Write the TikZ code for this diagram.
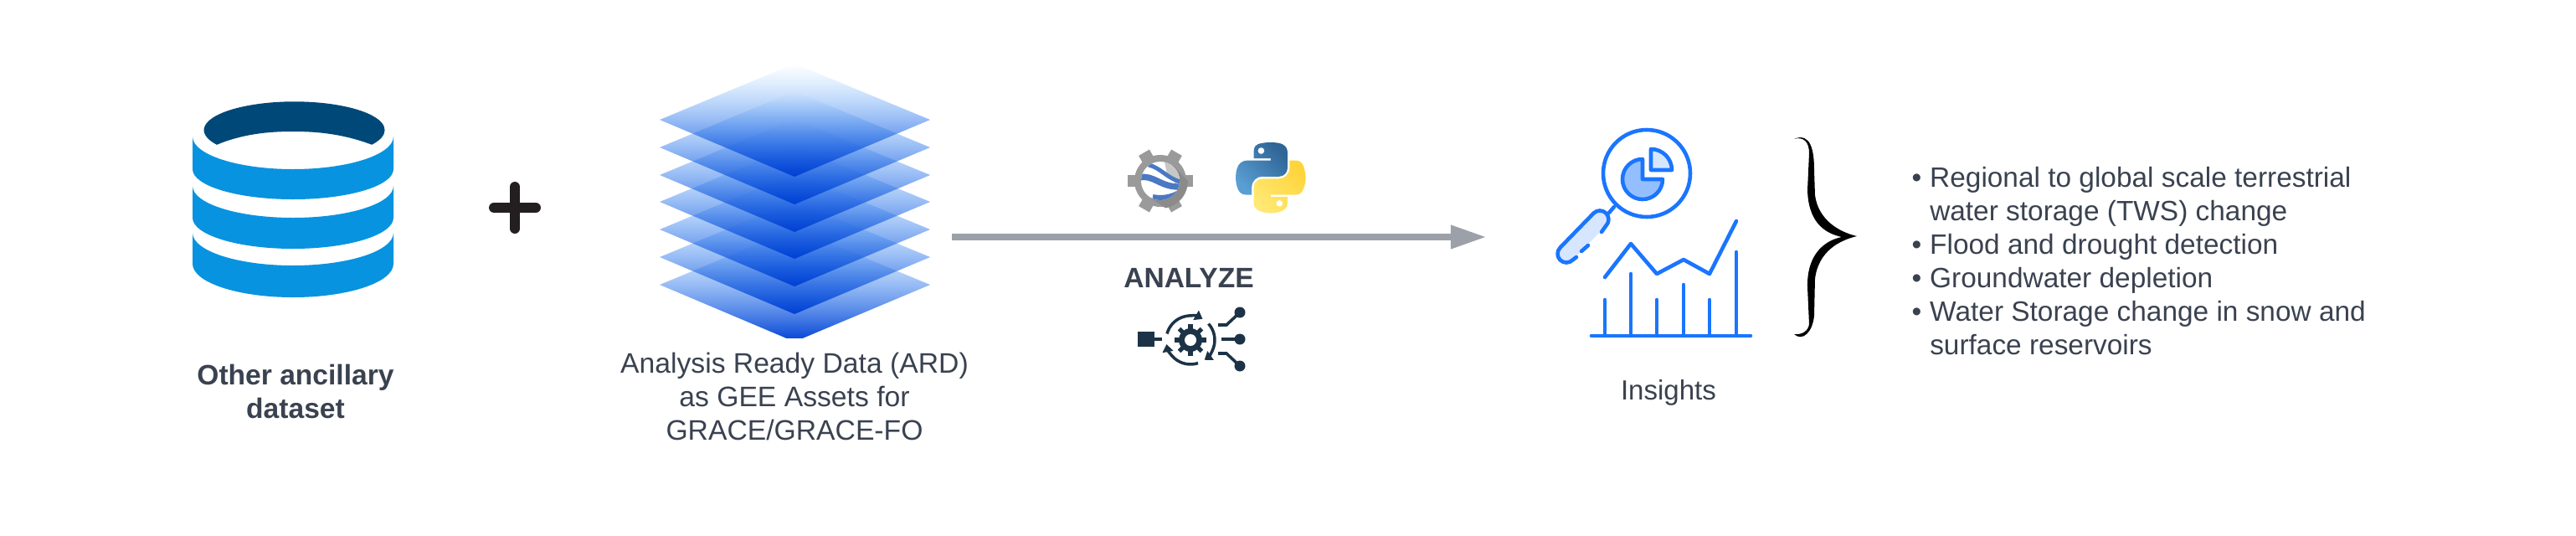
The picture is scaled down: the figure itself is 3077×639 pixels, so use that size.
\documentclass[tikz,border=0pt]{standalone}
\usepackage{fontspec}
\setmainfont{Liberation Sans}
\usetikzlibrary{arrows.meta}
\usetikzlibrary{fadings}
\definecolor{textdark}{HTML}{3A4250}
\definecolor{bandblue}{HTML}{0893E0}
\definecolor{rimblue}{HTML}{004878}
\definecolor{layerblue}{HTML}{0040D4}
\definecolor{layerpale}{HTML}{58ACFF}
\definecolor{arrowgray}{HTML}{9BA0A9}
\definecolor{plusblack}{HTML}{231F20}
\definecolor{iconnavy}{HTML}{1C3347}
\definecolor{gearsilver}{HTML}{9A9A9A}
\definecolor{earthblue}{HTML}{4A78C4}
\definecolor{snakeblue}{HTML}{5A9FD4}
\definecolor{snakenavy}{HTML}{2F6597}
\definecolor{snakepale}{HTML}{FFE873}
\definecolor{snakegold}{HTML}{FFD43B}
\definecolor{chartblue}{HTML}{1A75FF}
\definecolor{pieblue}{HTML}{94BFFF}
\definecolor{palechart}{HTML}{D6E6FF}
\tikzfading[name=layerfade, top color=transparent!100, middle color=transparent!8, bottom color=transparent!0]
\tikzset{
  labeltext/.style={inner sep=0pt, text=textdark, align=center, font=\fontsize{9.58}{11.38}\selectfont},
  boldlabel/.style={labeltext, font=\fontsize{9.55}{11.38}\selectfont\bfseries},
  chartline/.style={draw=chartblue, line width=1.3pt, line cap=round, line join=round},
  navyline/.style={draw=iconnavy, line width=1pt},
  ringarrow/.style={navyline, -{Triangle[length=2.6pt,width=3.6pt]}}
}
\begin{document}
\begin{tikzpicture}[x=0.01cm,y=-0.01cm]
  \useasboundingbox (0,0) rectangle (3077,639);
  %% Cylinder
  \fill[rimblue] (259,172.8) arc[start angle=149,end angle=391,x radius=108,y radius=34]
    .. controls (410,160) and (380,157) .. (350,157)
    .. controls (320,157) and (290,160) .. (259,172.8) -- cycle;
  \foreach \sa/\da/\sb/\db in {163/39/202/36, 222/38/260/37, 278/39/315/40}
    \fill[bandblue] (230,\sa) arc[start angle=180,end angle=0,x radius=120,y radius=\da]
      -- (470,\sb) arc[start angle=0,end angle=180,x radius=120,y radius=\db] -- cycle;
  \node[boldlabel] (ancillarylabel) at (353,467) {Other ancillary\\dataset};
  %% Plus
  \draw[plusblack, line width=3.4pt, line cap=round] (590,248) -- (640,248);
  \draw[plusblack, line width=3.4pt, line cap=round] (615,223) -- (615,273);
  %% Layers
  \begin{scope}
    \clip (700,60) rectangle (1200,403);
    \foreach \ym in {340,307,274,241,209,176,143}
      \shade[top color=layerpale, bottom color=layerblue, path fading=layerfade]
        (949,\ym-67) -- (1111,\ym) -- (949,\ym+68) -- (788,\ym) -- cycle;
  \end{scope}
  \node[labeltext] (ardlabel) at (949,473) {Analysis Ready Data (ARD)\\as GEE Assets for\\GRACE/GRACE-FO};
  %% Arrow
  \coordinate (arrowtail) at (1137,283);
  \coordinate (arrowtip) at (1775,283);
  \draw[arrowgray, line width=2pt, -{Triangle[length=12pt,width=7.7pt]}] (arrowtail) -- (arrowtip);
  \node[boldlabel, anchor=base] (analyzelabel) at (1420,343) {ANALYZE};
  %% Engine gear
  \begin{scope}[shift={(1386,216)}]
    \fill[gearsilver] (0,0) circle (31);
    \foreach \ang in {0,60,...,300}
      \draw[gearsilver, line width=4.2pt] (\ang:20) -- (\ang:39);
    \begin{scope}
      \clip (0,0) circle (33);
      \fill[gearsilver!90!black] (16,-18) -- (42,10) -- (14,38) -- (-12,20) -- cycle;
    \end{scope}
    \fill[white] (0,0) circle (23);
    \begin{scope}
      \clip (0,0) circle (23);
      \fill[black!22] (5,-23) arc[start angle=-78,end angle=20,radius=23] -- (8,-8) -- cycle;
      \draw[earthblue, line width=1.4pt] (-14,-19) .. controls (0,-16) and (8,-3) .. (24,1);
      \draw[earthblue, line width=2.1pt] (-25,-4) .. controls (-8,-8) and (0,8) .. (24,7);
      \draw[earthblue, line width=1.7pt] (-9,19) .. controls (0,21) and (12,20) .. (22,14);
    \end{scope}
  \end{scope}
  %% Snake logo
  \begin{scope}[shift={(1476,170)},x=0.00752cm,y=-0.00752cm]
    \shade[left color=snakeblue, right color=snakenavy, shading angle=135]
      (54.919,0.001) .. controls (50.335,0.022) and (45.958,0.413) .. (42.106,1.095)
      .. controls (30.76,3.099) and (28.7,7.295) .. (28.7,15.032) -- (28.7,25.251) -- (55.513,25.251)
      -- (55.513,28.657) -- (18.638,28.657) .. controls (10.845,28.657) and (4.022,33.341) .. (1.887,42.251)
      .. controls (-0.575,52.464) and (-0.684,58.837) .. (1.887,69.501)
      .. controls (3.793,77.44) and (8.346,83.095) .. (16.138,83.095) -- (25.357,83.095) -- (25.357,70.845)
      .. controls (25.357,61.995) and (33.014,54.189) .. (42.106,54.189) -- (68.888,54.189)
      .. controls (76.343,54.189) and (82.294,48.05) .. (82.294,40.564) -- (82.294,15.032)
      .. controls (82.294,7.766) and (76.164,2.307) .. (68.888,1.095)
      .. controls (64.282,0.328) and (59.503,-0.02) .. (54.919,0.001) -- cycle;
    \shade[left color=snakepale, right color=snakegold, shading angle=135]
      (85.638,28.657) -- (85.638,40.564) .. controls (85.638,49.796) and (77.811,57.564) .. (68.888,57.564)
      -- (42.106,57.564) .. controls (34.771,57.564) and (28.7,63.843) .. (28.7,71.189) -- (28.7,96.72)
      .. controls (28.7,103.987) and (35.019,108.261) .. (42.106,110.345)
      .. controls (50.593,112.84) and (58.732,113.291) .. (68.888,110.345)
      .. controls (75.638,108.391) and (82.294,104.458) .. (82.294,96.72) -- (82.294,86.501) -- (55.513,86.501)
      -- (55.513,83.095) -- (95.701,83.095) .. controls (103.494,83.095) and (106.397,77.659) .. (109.107,69.501)
      .. controls (111.906,61.102) and (111.787,53.025) .. (109.107,42.251)
      .. controls (107.181,34.494) and (103.503,28.657) .. (95.701,28.657) -- cycle;
    \fill[white] (40.42,13.33) circle (5.06);
    \fill[white] (69.51,96.75) circle (5.06);
  \end{scope}
  %% Analyze icon
  \fill[iconnavy] (1359,396) rectangle (1379,414);
  \draw[navyline, line width=1.4pt] (1379,405) -- (1388,405);
  \begin{scope}[shift={(1422,406)}]
    \fill[iconnavy] (0,0) circle (14);
    \foreach \ang in {0,45,...,315}
      \draw[iconnavy, line width=1.5pt] (\ang:10) -- (\ang:19);
    \fill[white] (0,0) circle (7);
    \draw[ringarrow] (195:29) arc[start angle=195,end angle=300,radius=29];
    \draw[ringarrow] (-42:29) arc[start angle=-42,end angle=55,radius=29];
    \draw[ringarrow] (72:29) arc[start angle=72,end angle=170,radius=29];
  \end{scope}
  \draw[navyline] (1455,388) -- (1465,388) -- (1481,373);
  \draw[navyline] (1459,405) -- (1481,405);
  \draw[navyline] (1455,422) -- (1465,422) -- (1481,437);
  \foreach \yd in {373,405,437}
    \fill[iconnavy] (1481,\yd) circle (6.5);
  %% Insights icon
  \draw[chartline] (1967,207) circle (52);
  \draw[chartline, fill=pieblue] (1962,190) -- (1962,214) -- (1986,214) arc[start angle=0,end angle=270,radius=24] -- cycle;
  \draw[chartline, fill=palechart] (1972,178) -- (1972,203) -- (1997,203) arc[start angle=0,end angle=-90,radius=25] -- cycle;
  \draw[chartline] (1928,247) -- (1922,254);
  \draw[palechart, line width=6pt, line cap=round] (1911,262) -- (1871,303);
  \draw[chartline] (1913,277) -- (1918.4,269.4) arc[start angle=45,end angle=-135,radius=10.5]
    -- (1863.6,295.6) arc[start angle=-135,end angle=-315,radius=10.5] -- (1883,307);
  \draw[chartline] (1889,300) -- (1897,293);
  \draw[chartline] (1917,331) -- (1948,291) -- (1979,327) -- (2011,310) -- (2042,327) -- (2074,264);
  \foreach \xb/\yb in {1917/358,1948/327,1979/358,2011/340,2042/358,2074/301}
    \draw[chartline] (\xb,401) -- (\xb,\yb);
  \draw[chartline] (1901,401) -- (2091,401);
  \node[labeltext, font=\fontsize{9.4}{11.38}\selectfont] (insightslabel) at (1993,469) {Insights};
  %% Big brace
  \fill[black] (2143.3,165.7) .. controls (2163,158) and (2167,180) .. (2167,203)
    -- (2168,233) .. controls (2172,263) and (2197,277) .. (2218,282)
    .. controls (2197,287) and (2172,300) .. (2168,333)
    -- (2167,377) .. controls (2165,397) and (2153,408) .. (2143,399)
    .. controls (2153,400) and (2160,395) .. (2161,387)
    -- (2159,343) .. controls (2158,303) and (2180,287) .. (2200,283)
    .. controls (2177,278) and (2160,263) .. (2159,227)
    -- (2161,183) .. controls (2161,170) and (2155,163) .. (2143.3,165.7) -- cycle;
  %% Outcome list
  \node[inner sep=0pt, anchor=north west, text=textdark, font=\fontsize{9.5}{11.38}\selectfont] (insightlist) at (2283,195) {%
    \begin{tabular}{@{}l@{\hskip 2.8pt}l@{}}
      \textbullet & Regional to global scale terrestrial\\
       & water storage (TWS) change\\
      \textbullet & Flood and drought detection\\
      \textbullet & Groundwater depletion\\
      \textbullet & Water Storage change in snow and\\
       & surface reservoirs
    \end{tabular}};
\end{tikzpicture}
\end{document}
